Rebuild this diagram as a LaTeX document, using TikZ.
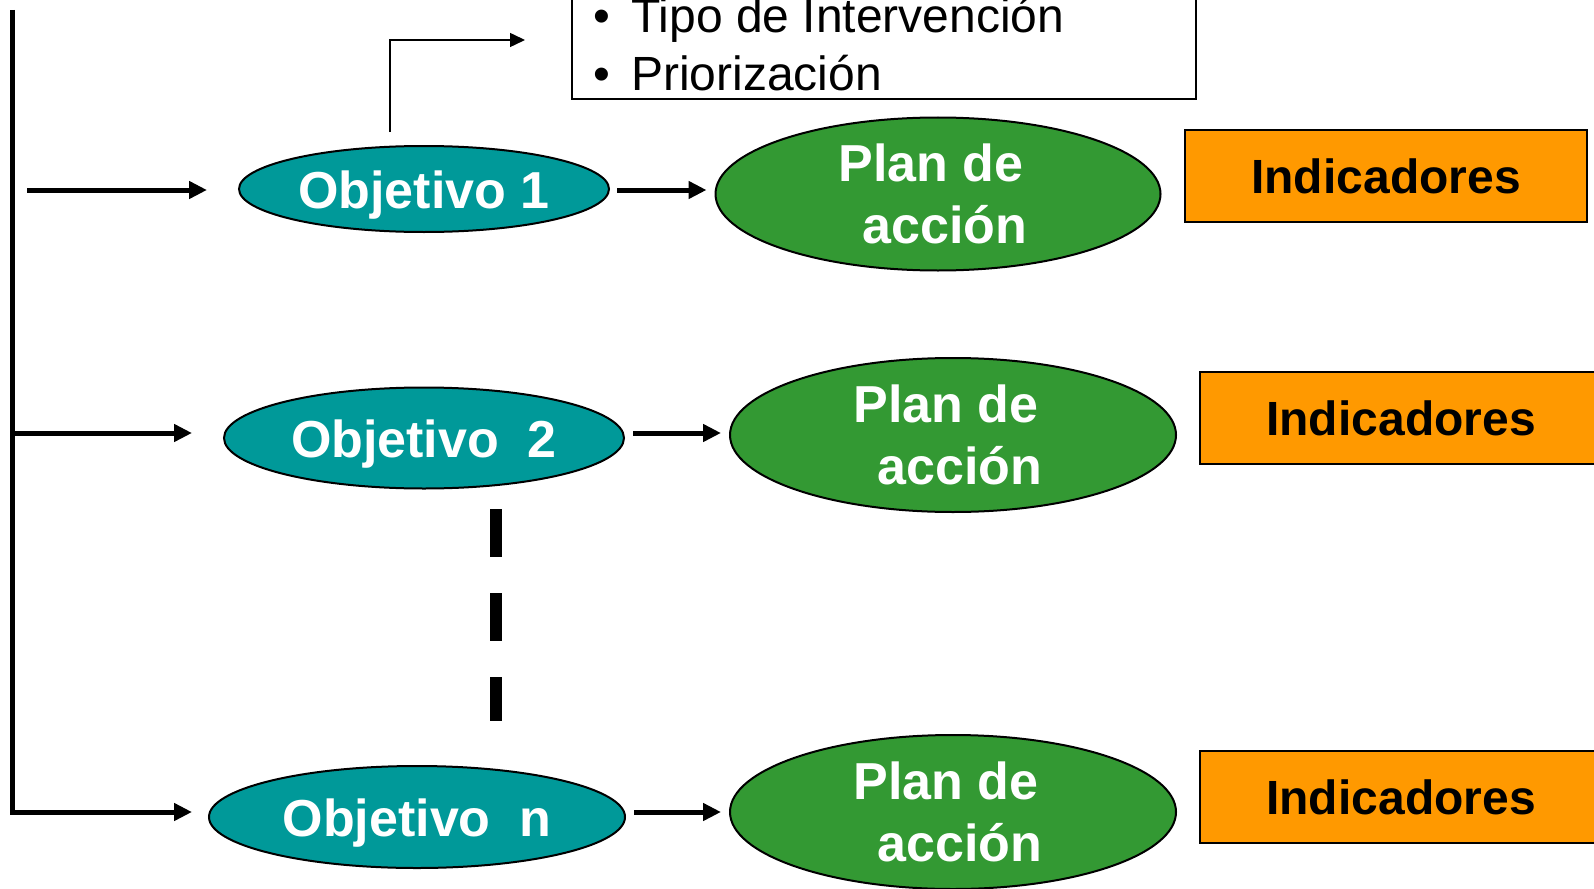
\documentclass[tikz,border=0pt]{standalone}
\usepackage{fontspec}
\setmainfont{Liberation Sans}
\usetikzlibrary{arrows.meta,shapes.geometric}
\definecolor{tealO}{RGB}{0,153,153}
\definecolor{greenP}{RGB}{51,153,51}
\definecolor{orangeI}{RGB}{255,153,0}
\begin{document}
\begin{tikzpicture}[x=1pt,y=-1pt,
  objbox/.style={ellipse, draw=black, line width=2pt, fill=tealO, text=white,
    font=\bfseries\fontsize{52}{62}\selectfont, inner sep=0pt, text height=38pt, text depth=0pt},
  planbox/.style={ellipse, draw=black, line width=2pt, fill=greenP, text=white,
    font=\bfseries\fontsize{52}{62}\selectfont, align=center, inner sep=0pt,
    minimum width=446pt, minimum height=154pt},
  indbox/.style={rectangle, draw=black, line width=2pt, fill=orangeI, text=black,
    font=\bfseries\fontsize{48}{58}\selectfont, minimum width=402pt, minimum height=92pt},
  arr/.style={line width=5pt, -{Triangle[length=18pt,width=17pt]}},
  thinarr/.style={line width=1.5pt, -{Triangle[length=15pt,width=14pt]}},
  listtext/.style={anchor=base west, inner sep=0pt, font=\fontsize{48}{58}\selectfont}
]
\useasboundingbox (0,0) rectangle (1594,888);
\clip (0,0) rectangle (1594,888);

% list box (top cut off)
\node[draw=black, line width=1.5pt, rectangle, minimum width=624pt, minimum height=160pt,
  anchor=south west, inner sep=0pt] (lista) at (571,100) {};
\node[listtext] (b1) at (593,33) {\textbullet};
\node[listtext] (t1) at (631,33) {Tipo de Intervención};
\node[listtext] (b2) at (593,91) {\textbullet};
\node[listtext] (t2) at (631,91) {Priorización};

% objectives
\node[objbox, minimum width=370pt, minimum height=86pt] (o1) at (424,189) {Objetivo 1};
\node[objbox, minimum width=400pt, minimum height=101pt] (o2) at (424,438) {Objetivo\ \ 2};
\node[objbox, minimum width=416pt, minimum height=102pt] (on) at (417,817) {Objetivo\ \ n};

% plans
\node[planbox, minimum width=445pt, minimum height=153pt] (p1) at (938,194) {Plan de\hspace*{14pt}\\\hspace*{14pt}acción};
\node[planbox] (p2) at (953,435) {Plan de\hspace*{14pt}\\\hspace*{14pt}acción};
\node[planbox] (p3) at (953,812) {Plan de\hspace*{14pt}\\\hspace*{14pt}acción};

% indicators
\node[indbox] (i1) at (1386,176) {Indicadores};
\node[indbox] (i2) at (1401,418) {Indicadores};
\node[indbox] (i3) at (1401,797) {Indicadores};

% trunk and arrows
\coordinate (top) at (12,10);
\coordinate (c1) at (27,190);
\coordinate (c2) at (12,433);
\coordinate (c3) at (12,812);
\draw[line width=5pt] (top) -- (c2);
\draw[arr] (c2) -- (c3) -- ([xshift=-16pt]on.west |- c3);
\draw[arr] (c1) -- ([xshift=-31pt]o1.west |- c1);
\draw[arr] (c2) -- ([xshift=-31pt]o2.west |- c2);

\draw[arr] ([xshift=7pt]o1.east |- c1) -- ([xshift=-8pt]p1.west |- c1);
\draw[arr] ([xshift=8pt]o2.east |- c2) -- ([xshift=-8pt]p2.west |- c2);
\draw[arr] ([xshift=8pt]on.east |- c3) -- ([xshift=-8pt]p3.west |- c3);

% bent thin arrow to list
\coordinate (bs) at (390,132);
\coordinate (be) at (525,40);
\draw[thinarr] (bs) |- (be);

% dashed continuation
\coordinate (d1) at (496,509);
\coordinate (d2) at (496,721);
\draw[line width=12pt, dash pattern=on 48pt off 36pt] (d1) -- (d2);
\end{tikzpicture}
\end{document}
